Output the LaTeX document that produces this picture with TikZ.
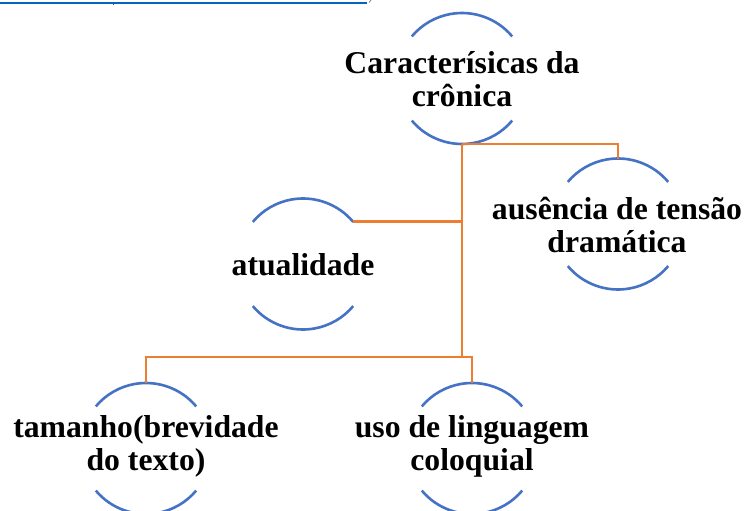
\documentclass[tikz,border=0pt]{standalone}
\usepackage{fontspec}
\setmainfont{Liberation Serif}
\definecolor{ringblue}{HTML}{4472C4}
\definecolor{linkorange}{HTML}{ED7D31}
\definecolor{hyperblue}{HTML}{0563C1}
\tikzset{
  ring/.style={circle, minimum size=131pt, inner sep=0pt, outer sep=0pt},
  arcline/.style={draw=ringblue, line width=2.6pt},
  conn/.style={draw=linkorange, line width=2.8pt},
  txt/.style={font=\bfseries\fontsize{31.7}{33}\selectfont, align=center, inner sep=0pt},
}
\begin{document}
\begin{tikzpicture}[x=1pt,y=1pt]
\useasboundingbox (0,0) rectangle (745,-511);
\clip (0,0) rectangle (745,-511);
% fragment of a hyperlink underline at the top edge
\draw[hyperblue, line width=1.8pt] (0,-3) -- (367,-3);
\draw[hyperblue, line width=1.4pt] (113.5,-3) -- (113.5,-5);
\draw[gray, line width=0.8pt] (369,-2.5) -- (371,0);
% ring nodes
\node[ring] (top) at (462,-78.5) {};
\node[ring] (rt)  at (618,-224) {};
\node[ring] (at)  at (303,-264) {};
\node[ring] (bl)  at (146,-448.5) {};
\node[ring] (br)  at (472,-448.5) {};
% texts
\node[txt] (ttop) at (462,-79.5) {Caracterísicas da\\crônica};
\node[txt] (trt)  at (617,-225) {ausência de tensão\\dramática};
\node[txt] (tat)  at (303,-264.5) {atualidade};
\node[txt] (tbl)  at (146,-446.6) {tamanho(brevidade\\do texto)};
\node[txt] (tbr)  at (472,-446) {uso de linguagem\\coloquial};
% arcs
\foreach \n in {top,rt,at,bl,br}{
  \draw[arcline] (\n.40) arc[start angle=40, end angle=140, radius=65.5pt];
  \draw[arcline] (\n.220) arc[start angle=220, end angle=320, radius=65.5pt];
}
% connectors
\coordinate (bar) at (0,-357);
\draw[conn] (top.south) -- (top.south |- bar);
\draw[conn] (top.south) -| (rt.north);
\draw[conn] (at.40) -- (at.40 -| top.south);
\draw[conn] (bl.north) |- (bar -| br.north) -- (br.north);
\end{tikzpicture}
\end{document}
